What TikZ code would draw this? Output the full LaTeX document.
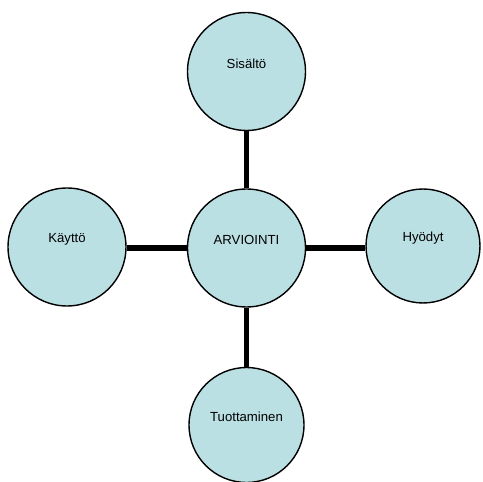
\documentclass[tikz,border=0pt]{standalone}
\usepackage{fontspec}
\setmainfont{Liberation Sans}
\usepackage{tikz}
\definecolor{bubblefill}{RGB}{187,224,228}

\begin{document}
\begin{tikzpicture}[x=0.02cm,y=-0.02cm]
\tikzstyle{bubble}=[draw=black,line width=0.8pt,fill=bubblefill,circle,inner sep=0pt,minimum size=2.36cm]
\tikzstyle{lbl}=[font=\fontsize{7.5}{9}\selectfont,yshift=4.5pt,inner sep=0pt]
\tikzstyle{link}=[line width=3.3pt,black]
\useasboundingbox (0,0) rectangle (483,482);
\node[bubble,label={[lbl,name=arvT]center:ARVIOINTI}] (arv) at (246.5,248) {};
\node[bubble,label={[lbl,name=sisT]center:Sisältö}] (sis) at (246.5,71.5) {};
\node[bubble,label={[lbl,name=kayT]center:Käyttö}] (kay) at (67,247) {};
\node[bubble,minimum size=2.28cm,label={[lbl,name=hyoT]center:Hyödyt}] (hyo) at (423,246) {};
\node[bubble,minimum size=2.3cm,label={[lbl,name=tuoT]center:Tuottaminen}] (tuo) at (246.5,425) {};
\draw[link] (arv.north) -- (sis.south);
\draw[link] (arv.south) -- (tuo.north);
\draw[link] (arv.west) -- (arv.west -| kay.east);
\draw[link] (arv.east) -- (arv.east -| hyo.west);
\end{tikzpicture}
\end{document}
